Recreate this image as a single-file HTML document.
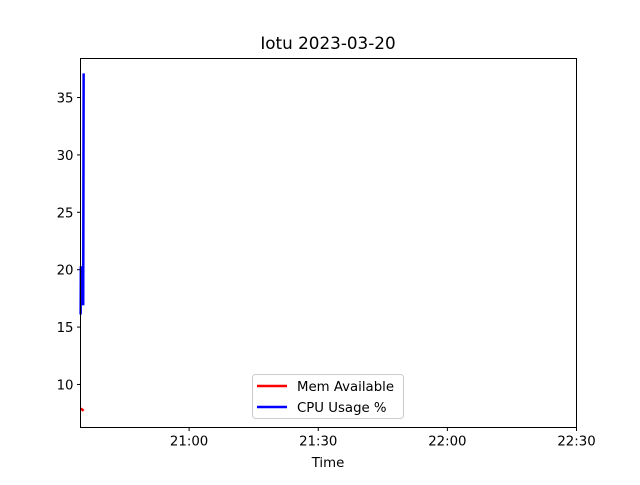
<!DOCTYPE html>
<html><head><meta charset="utf-8"><style>
body{margin:0;background:#fff;}
svg text{font-family:"DejaVu Sans","Liberation Sans",sans-serif;fill:#000;}
</style></head><body>
<svg id="chart" width="640" height="480" xmlns="http://www.w3.org/2000/svg">
<rect width="640" height="480" fill="#fff"/>
<text x="328" y="49" font-size="16.8" text-anchor="middle">Iotu 2023-03-20</text>
<g id="plot"></g>
<rect x="80.5" y="58.5" width="496" height="369" fill="none" stroke="#000" stroke-width="1"/>
<text x="328" y="467" font-size="13.3" text-anchor="middle">Time</text>
<g>
<rect x="252.5" y="374.5" width="151" height="44" rx="3" fill="#fff" fill-opacity="0.8" stroke="#ccc"/>
<line x1="257" y1="386" x2="287" y2="386" stroke="red" stroke-width="2.5"/>
<text x="297" y="391" font-size="13.3">Mem Available</text>
<line x1="257" y1="407" x2="287" y2="407" stroke="blue" stroke-width="2.5"/>
<text x="297" y="412" font-size="13.3">CPU Usage %</text>
</g>
</svg>
<script>
// minutes after 20:00
const xTickValues=[60,90,120,150];
const xTickLabels=["21:00","21:30","22:00","22:30"];
const yTickValues=[10,15,20,25,30,35];
const memTimes=[34.8,35.2,35.5];
const memValues=[7.9,7.8,7.7];
const cpuTimes=[34.8,34.85,35.4,35.5];
const cpuValues=[16.1,20.3,16.9,37.1];

const X0=80.5,X1=576.5,Y0=427.5,Y1=58.5;
const xmin=34.77,xmax=150,ymin=6.25,ymax=38.4;
const sx=v=>X0+(v-xmin)/(xmax-xmin)*(X1-X0);
const sy=v=>Y0-(v-ymin)/(ymax-ymin)*(Y0-Y1);
const NS="http://www.w3.org/2000/svg";
const g=document.getElementById('plot');
function mk(t,a){const e=document.createElementNS(NS,t);for(const k in a)e.setAttribute(k,a[k]);g.appendChild(e);return e;}
xTickValues.forEach((v,i)=>{
  const l=mk('line',{x1:sx(v),x2:sx(v),y1:Y0,y2:Y0+3.5,stroke:'#000'});
  
  
  const t=mk('text',{x:sx(v),y:Y0+18,'font-size':13.3,'text-anchor':'middle'});
  t.textContent=xTickLabels[i];
  
  
});
yTickValues.forEach(v=>{
  const l=mk('line',{x1:X0-3.5,x2:X0,y1:sy(v),y2:sy(v),stroke:'#000'});
  
  
  const t=mk('text',{x:X0-7,y:sy(v)+5,'font-size':13.3,'text-anchor':'end'});
  t.textContent=v;
  
  
});
const mem=mk('polyline',{points:memTimes.map((t,i)=>sx(t)+','+sy(memValues[i])).join(' '),fill:'none',stroke:'red','stroke-width':2.5});


const cpu=mk('polyline',{points:cpuTimes.map((t,i)=>sx(t)+','+sy(cpuValues[i])).join(' '),fill:'none',stroke:'blue','stroke-width':2.5});


</script>
</body></html>
